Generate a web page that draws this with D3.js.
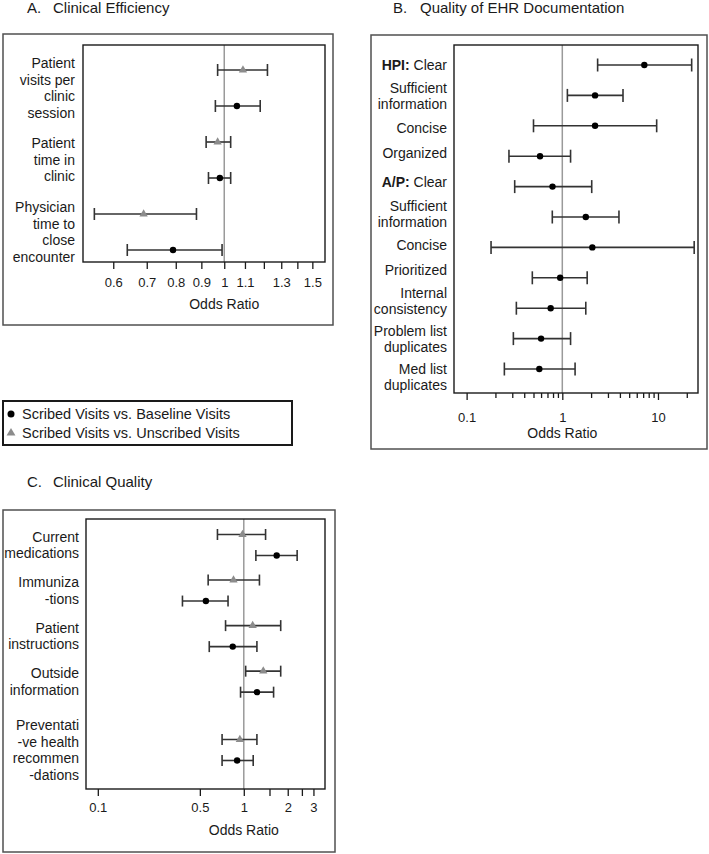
<!DOCTYPE html>
<html>
<head>
<script src="https://d3js.org/d3.v7.min.js"></script>
<style>
  body { margin: 0; background: #fff; }
  svg text { font-family: "Liberation Sans", Arial, sans-serif; fill: #1a1a1a; }
</style>
</head>
<body>
<svg id="chart" width="709" height="854"></svg>
<script>

// A. Clinical efficiency
var effLabels = [["Patient", "visits per", "clinic", "session"],
                 ["Patient", "time in", "clinic"],
                 ["Physician", "time to", "close", "encounter"]];
var effBaseOR = [1.06, 0.98, 0.79];
var effBaseLo = [0.96, 0.93, 0.64];
var effBaseHi = [1.18, 1.03, 0.99];
var effUnscOR = [1.09, 0.97, 0.69];
var effUnscLo = [0.97, 0.92, 0.55];
var effUnscHi = [1.22, 1.03, 0.88];
var effTicks = [0.6, 0.7, 0.8, 0.9, 1, 1.1, 1.2, 1.3, 1.4, 1.5];
var effTickLabels = [0.6, 0.7, 0.8, 0.9, 1, 1.1, 1.3, 1.5];

// B. Quality of EHR documentation (scribed vs baseline only)
var docPrefix = ["HPI:", "", "", "", "A/P:", "", "", "", "", "", ""];
var docLabels = [["Clear"], ["Sufficient", "information"], ["Concise"], ["Organized"],
                 ["Clear"], ["Sufficient", "information"], ["Concise"], ["Prioritized"],
                 ["Internal", "consistency"], ["Problem list", "duplicates"], ["Med list", "duplicates"]];
var docOR = [7.2, 2.2, 2.2, 0.585, 0.79, 1.76, 2.06, 0.95, 0.756, 0.60, 0.575];
var docLo = [2.34, 1.13, 0.50, 0.277, 0.318, 0.786, 0.18, 0.486, 0.331, 0.308, 0.248];
var docHi = [22.5, 4.31, 9.69, 1.22, 2.03, 3.91, 23.9, 1.82, 1.76, 1.22, 1.36];
var docTicks = [0.1, 0.2, 0.3, 0.4, 0.5, 0.6, 0.7, 0.8, 0.9, 1, 2, 3, 4, 5, 6, 7, 8, 9, 10, 20];
var docTickLabels = [0.1, 1, 10];

// C. Clinical quality
var qualLabels = [["Current", "medications"], ["Immuniza", "-tions"], ["Patient", "instructions"],
                  ["Outside", "information"], ["Preventati", "-ve health", "recommen", "-dations"]];
var qualBaseOR = [1.68, 0.55, 0.84, 1.23, 0.90];
var qualBaseLo = [1.21, 0.38, 0.58, 0.95, 0.71];
var qualBaseHi = [2.32, 0.78, 1.23, 1.60, 1.16];
var qualUnscOR = [0.98, 0.85, 1.15, 1.36, 0.94];
var qualUnscLo = [0.66, 0.57, 0.75, 1.03, 0.71];
var qualUnscHi = [1.41, 1.28, 1.79, 1.79, 1.23];
var qualTicks = [0.1, 0.5, 1, 1.5, 2, 2.5, 3];
var qualTickLabels = [0.1, 0.5, 1, 2, 3];

var legendItems = ["Scribed Visits vs. Baseline Visits", "Scribed Visits vs. Unscribed Visits"];

var svg = d3.select("#chart");
var lineH = 16.5;
var triColor = "#8c8c8c";

// centre of each label block, counted in text lines
function lineCentres(labels) {
  var start = 0;
  return labels.map(function(l) { var c = start + l.length / 2; start += l.length; return c; });
}

function drawPanel(o) {
  var g = svg.append("g");
  var x = o.x, inn = o.inner;
  var labelY = o.labelY || o.y;

  g.append("rect")
    .attr("x", o.outer[0]).attr("y", o.outer[1])
    .attr("width", o.outer[2] - o.outer[0]).attr("height", o.outer[3] - o.outer[1])
    .attr("fill", "none").attr("stroke", "#505050").attr("stroke-width", 1.5);

  // reference line at OR = 1
  g.append("line")
    .attr("x1", x(1)).attr("x2", x(1)).attr("y1", inn.t).attr("y2", inn.b)
    .attr("stroke", "#9a9a9a").attr("stroke-width", 1.5);

  o.series.forEach(function(s) {
    s.or.forEach(function(v, i) {
      var y = o.y(i) + s.offset;
      g.append("line").attr("x1", x(s.lo[i])).attr("x2", x(s.hi[i])).attr("y1", y).attr("y2", y)
        .attr("stroke", "#333").attr("stroke-width", 1.6);
      [s.lo[i], s.hi[i]].forEach(function(c) {
        g.append("line").attr("x1", x(c)).attr("x2", x(c)).attr("y1", y - o.cap).attr("y2", y + o.cap)
          .attr("stroke", "#333").attr("stroke-width", 1.6);
      });
      if (s.kind === "circle") {
        g.append("circle").attr("cx", x(v)).attr("cy", y).attr("r", 3.2).attr("fill", "#000");
      } else {
        g.append("path").attr("d", d3.symbol(d3.symbolTriangle, 30)())
          .attr("transform", "translate(" + x(v) + "," + y + ")").attr("fill", triColor);
      }
    });
  });

  g.append("rect")
    .attr("x", inn.l).attr("y", inn.t).attr("width", inn.r - inn.l).attr("height", inn.b - inn.t)
    .attr("fill", "none").attr("stroke", "#1a1a1a").attr("stroke-width", 1.4);

  var ax = g.append("g")
    .attr("transform", "translate(0," + inn.b + ")")
    .call(d3.axisBottom(x).tickValues(o.ticks).tickSize(7).tickPadding(o.pad)
      .tickFormat(function(d) { return o.tickLabels.indexOf(d) >= 0 ? String(d) : ""; }));
  ax.select(".domain").remove();
  ax.selectAll(".tick line").attr("stroke", "#1a1a1a").attr("stroke-width", 1.3)
    .attr("y2", function(d) { return o.minorShort && o.tickLabels.indexOf(d) < 0 ? 5 : 7; });
  ax.selectAll(".tick text").style("font-size", "13px").style("font-family", "Liberation Sans, Arial, sans-serif")
    .attr("fill", "#1a1a1a");

  g.append("text").attr("x", x(1)).attr("y", o.xTitleY).attr("text-anchor", "middle")
    .style("font-size", "14px").text("Odds Ratio");

  // row labels
  o.labels.forEach(function(lines, i) {
    var yc = labelY(i);
    lines.forEach(function(t, k) {
      var txt = g.append("text").attr("x", o.labelRight)
        .attr("y", yc + (k - (lines.length - 1) / 2) * o.lineH).attr("dy", "0.35em")
        .attr("text-anchor", "end").style("font-size", "14px");
      if (k === 0 && o.prefix && o.prefix[i]) {
        txt.append("tspan").attr("font-weight", "bold").text(o.prefix[i] + " ");
      }
      txt.append("tspan").text(t);
    });
  });

  g.append("text").attr("x", o.titleX[0]).attr("y", o.titleY).style("font-size", "15px").text(o.title[0]);
  g.append("text").attr("x", o.titleX[1]).attr("y", o.titleY).style("font-size", "15px").text(o.title[1]);
}

// Panel A
var effCentres = lineCentres(effLabels);
var yA = d3.scaleLinear().domain([2, 9]).range([88, 232]);
drawPanel({
  outer: [3, 34, 333, 325],
  inner: { l: 83, t: 45, r: 325, b: 262 },
  x: d3.scaleLog().domain([0.522, 1.59]).range([83, 325]),
  y: function(i) { return yA(effCentres[i]); },
  labels: effLabels, labelRight: 75, cap: 6, lineH: lineH,
  series: [
    { or: effUnscOR, lo: effUnscLo, hi: effUnscHi, offset: -18, kind: "tri" },
    { or: effBaseOR, lo: effBaseLo, hi: effBaseHi, offset: 18, kind: "circle" }
  ],
  ticks: effTicks, tickLabels: effTickLabels, pad: 9, xTitleY: 309,
  title: ["A.", "Clinical Efficiency"], titleX: [27, 53], titleY: 13
});

// Panel B: markers evenly spaced, labels stacked by their line count
var yB = d3.scalePoint().domain(d3.range(docLabels.length)).range([65, 369]);
var docLabelCentres = [];
docLabels.forEach(function(l, i) {
  if (i === 0) { docLabelCentres.push(65); return; }
  var prev = docLabels[i - 1].length;
  var gap = docPrefix[i] && i > 0 ? 5 : 0;
  docLabelCentres.push(docLabelCentres[i - 1] + 12 + 12.9 * (prev + l.length) / 2 + gap);
});
drawPanel({
  outer: [371, 35, 707, 449],
  inner: { l: 454, t: 45, r: 698, b: 393 },
  x: d3.scaleLog().domain([0.0738, 26.2]).range([454, 698]),
  y: function(i) { return yB(i); },
  labelY: function(i) { return docLabelCentres[i]; },
  labels: docLabels, prefix: docPrefix, labelRight: 447, cap: 6.5, lineH: 16,
  series: [{ or: docOR, lo: docLo, hi: docHi, offset: 0, kind: "circle" }],
  ticks: docTicks, tickLabels: docTickLabels, pad: 13, minorShort: true, xTitleY: 438,
  title: ["B.", "Quality of EHR Documentation"], titleX: [393, 420], titleY: 13
});

// Panel C
var qualCentres = lineCentres(qualLabels);
var yC = d3.scaleLinear().domain([1, 10]).range([545, 750]);
drawPanel({
  outer: [3, 510, 335, 852],
  inner: { l: 86, t: 519, r: 325, b: 789 },
  x: d3.scaleLog().domain([0.083, 3.6]).range([86, 325]),
  y: function(i) { return yC(qualCentres[i]); },
  labels: qualLabels, labelRight: 79, cap: 5.5, lineH: lineH,
  series: [
    { or: qualUnscOR, lo: qualUnscLo, hi: qualUnscHi, offset: -10.5, kind: "tri" },
    { or: qualBaseOR, lo: qualBaseLo, hi: qualBaseHi, offset: 10.5, kind: "circle" }
  ],
  ticks: qualTicks, tickLabels: qualTickLabels, pad: 7, xTitleY: 835,
  title: ["C.", "Clinical Quality"], titleX: [27, 53], titleY: 487
});

// Legend
var leg = svg.append("g");
leg.append("rect").attr("x", 3).attr("y", 401).attr("width", 289).attr("height", 44)
  .attr("fill", "none").attr("stroke", "#1a1a1a").attr("stroke-width", 2);
var legY = d3.scalePoint().domain(legendItems).range([414, 433]);
legendItems.forEach(function(t, i) {
  if (i === 0) {
    leg.append("circle").attr("cx", 11).attr("cy", legY(t)).attr("r", 3.5).attr("fill", "#000");
  } else {
    leg.append("path").attr("d", d3.symbol(d3.symbolTriangle, 34)())
      .attr("transform", "translate(11," + legY(t) + ")").attr("fill", triColor);
  }
  leg.append("text").attr("x", 22).attr("y", legY(t)).attr("dy", "0.35em")
    .style("font-size", "14.5px").text(t);
});

</script>
</body>
</html>
